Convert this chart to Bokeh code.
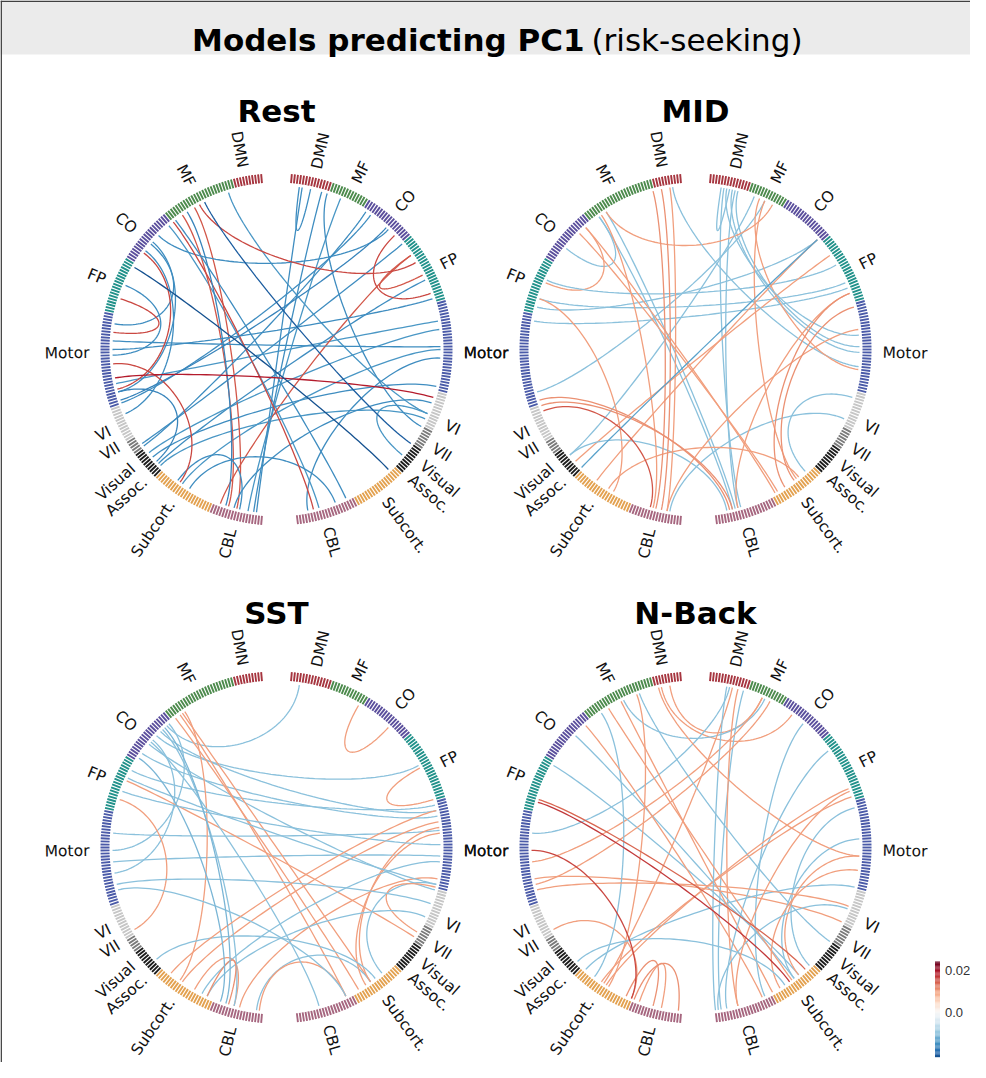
import numpy as np
from bokeh.plotting import figure
from bokeh.models import Range1d
from bokeh.embed import file_html
from bokeh.resources import INLINE
from bokeh.core.properties import value

# ---------------- data ----------------
networks = ["DMN", "MF", "CO", "FP", "Motor", "VI", "VII", "Visual Assoc.", "Subcort.", "CBL"]
net_labels = ["DMN", "MF", "CO", "FP", "Motor", "VI", "VII", "Visual\nAssoc.", "Subcort.", "CBL"]
left_counts = [10, 25, 19, 19, 32, 12, 5, 10, 21, 18]
right_counts = [14, 13, 18, 24, 31, 13, 7, 10, 18, 21]
net_colors = ["#a6353f", "#4c8a4c", "#5a4e9c", "#20918a", "#4a5aa8",
              "#c6c6c6", "#7a7a7a", "#1c1c1c", "#e3a14f", "#a6667f"]

panel_titles = ["Rest", "MID", "SST", "N-Back"]

rest_src = ["L23", "R41", "R50", "R50", "L95", "L67", "L49", "L34", "L25", "L90", "L30",
            "R3", "R4", "R11", "R18", "R13", "R28", "R37", "L41", "L82", "L85", "L97",
            "L120", "L28", "L36", "L44", "L62", "L100", "L104", "L129", "L140", "L143",
            "L126", "R88", "R78", "R104", "R108", "L33", "L48", "L138", "L12", "L76", "R110",
            "L55", "L21"]
rest_dst = ["R53", "R65", "L155", "R58", "R102", "L79", "L99", "R162", "L161", "L139", "L158",
            "R7", "L168", "L167", "L165", "R113", "L121", "L103", "R38", "R84", "R67", "R75",
            "R45", "L157", "R160", "L100", "L87", "L128", "R30", "R60", "R85", "R154",
            "R98", "R164", "L124", "L160", "R125", "R150", "L108", "L162", "R108", "L45", "L130",
            "R132", "R120"]
rest_w = [0.016, 0.016, 0.015, 0.015, 0.019, 0.016, 0.016, 0.016, 0.015, 0.016, 0.015,
          -0.015, -0.015, -0.015, -0.014, -0.015, -0.015, -0.016, -0.015, -0.015, -0.015, -0.014,
          -0.015, -0.016, -0.014, -0.015, -0.015, -0.016, -0.015, -0.015, -0.014, -0.015,
          -0.015, -0.015, -0.014, -0.015, -0.014, -0.015, -0.015, -0.015, -0.014, -0.015, -0.014,
          -0.021, -0.020]

mid_src = ["R4", "R5", "R9", "L28", "L31", "R8", "R10", "R16", "R20", "L28", "L47", "L37",
           "L60", "L67", "L70", "L75", "L67", "L103", "L105", "L107", "L131", "L128", "L125",
           "L10", "L7", "L4", "L30", "L37", "L3", "R65", "R70", "R18", "R43", "R102", "R110",
           "R136", "L165", "R160", "R6", "L40", "R20"]
mid_dst = ["R7", "R159", "R160", "R161", "R162", "R86", "R84", "L125", "L100", "R23", "L31", "L61",
           "R54", "R61", "R43", "R63", "L145", "R163", "R162", "L159", "R43", "R50", "R164",
           "L161", "L163", "L165", "L160", "R146", "R91", "R142", "R138", "R92", "L138", "R133", "L166",
           "L143", "R78", "R65", "R80", "R145", "R137"]
mid_w = [-0.010, -0.010, -0.010, -0.010, -0.010, -0.010, -0.010, -0.010, -0.010, 0.010, -0.010, 0.010,
         -0.010, -0.010, -0.010, -0.010, 0.010, 0.011, 0.011, 0.015, -0.013, 0.010, -0.010,
         0.011, 0.011, 0.010, 0.010, 0.010, -0.010, 0.011, 0.011, 0.010, 0.010, -0.010, -0.010,
         0.010, 0.010, 0.010, -0.010, 0.010, 0.010]

sst_src = ["R3", "R25", "R56", "L42", "L40", "L50", "L57", "L46", "L80", "L90", "L86", "L94",
           "L68", "L30", "L31", "L33", "L61", "L29", "L140", "L158", "L160", "L162", "L168",
           "L169", "R98", "R78", "R80", "R99", "L128", "L38", "L45", "L60", "L52", "L39",
           "L98", "L100", "L65", "R110", "L148", "L135"]
sst_dst = ["L37", "R38", "R68", "R55", "R72", "R74", "R70", "R100", "R79", "R88", "L36", "L44",
           "L115", "R140", "R150", "R145", "R118", "L139", "R76", "L150", "L145", "R96", "R140",
           "R150", "R135", "R140", "R142", "R116", "R138", "L157", "R160", "R98", "L155", "L160",
           "R105", "R150", "R84", "L150", "R90", "R72"]
sst_w = [-0.010, 0.010, 0.010, -0.010, -0.010, -0.010, -0.010, -0.010, -0.010, -0.010, -0.010, -0.010,
         0.010, 0.010, 0.010, 0.010, 0.010, 0.010, 0.010, 0.011, 0.010, 0.010, -0.010,
         0.010, -0.010, 0.010, 0.010, 0.010, -0.010, -0.011, -0.010, -0.010, -0.011, -0.010,
         -0.010, -0.010, -0.010, -0.010, -0.010, 0.010]

nback_src = ["L7", "L4", "L21", "R7", "R8", "R12", "R10", "R19", "L42", "L55", "L68", "L86",
             "L96", "L98", "L115", "L153", "L150", "L155", "L133", "L137", "L22", "L16", "L15",
             "L37", "R36", "R49", "R64", "R67", "R71", "R82", "R88", "R93", "R106", "R107",
             "L129", "R6", "L69", "R160", "L27", "L8"]
nback_dst = ["R31", "R19", "R20", "L80", "L141", "R166", "R160", "L90", "R138", "R136", "R133", "L152",
             "R112", "R22", "L152", "L169", "L160", "L163", "R99", "L30", "R147", "L143", "R120",
             "R151", "R150", "R164", "L142", "L140", "R131", "R138", "R136", "R144", "L100", "R167",
             "R142", "R168", "R140", "R65", "R139", "R88"]
nback_w = [0.010, 0.010, -0.010, -0.010, 0.010, -0.010, 0.010, 0.010, -0.010, -0.010, 0.014, 0.016,
           0.010, 0.010, 0.010, 0.011, 0.011, 0.010, -0.010, -0.010, 0.010, 0.010, -0.010,
           0.010, -0.010, -0.010, 0.010, 0.010, -0.010, -0.010, 0.010, 0.010, 0.010, -0.010,
           -0.010, -0.010, 0.017, 0.010, 0.010, 0.010]

cbar_ticks = [0.0, 0.02]
cbar_tick_labels = ["0.0", "0.02"]
cbar_min, cbar_max = -0.021, 0.024

# ---------------- layout / style ----------------
W, H = 970, 1062
RdBu_r = ["#053061", "#2166ac", "#4393c3", "#92c5de", "#d1e5f0", "#f7f7f7",
          "#fddbc7", "#f4a582", "#d6604d", "#b2182b", "#67001f"]
VMAX = 0.024


def cmap(v):
    t = min(max(0.5 + v / (2 * VMAX), 0.0), 1.0) * (len(RdBu_r) - 1)
    i = min(int(np.floor(t)), len(RdBu_r) - 2)
    f = t - i
    c0 = [int(RdBu_r[i][k:k + 2], 16) for k in (1, 3, 5)]
    c1 = [int(RdBu_r[i + 1][k:k + 2], 16) for k in (1, 3, 5)]
    c = [round(a + (b - a) * f) for a, b in zip(c0, c1)]
    return "#%02x%02x%02x" % tuple(c)


START, STEP = 5.0, 1.0
R_OUT, R_IN, R_CH, K = 176.0, 167.0, 164.0, 0.65
R_LAB = 185.0
LAB_FONT = "DejaVu Sans"
LAB_SIZE = 15.5
centers = [(284, 357), (703, 357), (284, 855), (703, 855)]
title_base = [118, 118, 620, 620]
left_lab_ang = [10.5, 27.5, 50, 68, 91, 116, 121.5, 132, 145.5, 166]
right_lab_ang = [12.5, 25.5, 41, 63, 91, 114, 122, 131, 144, 164]
# "Motor" width in px at LAB_SIZE (DejaVu Sans), so neighbouring panels' labels coincide
motor_w = 2.89 * LAB_SIZE
R_MOTOR = (419 - motor_w) / 2.0

p = figure(width=W, height=H, output_backend="svg", toolbar_location=None,
           x_range=Range1d(8, 8 + W), y_range=Range1d(-(8 + H), -8), min_border=0)
p.axis.visible = False
p.grid.visible = False
p.outline_line_color = None
p.background_fill_color = "white"

# title bar and frame
p.quad(left=[8], right=[8 + W], top=[-8], bottom=[-62], fill_color="#ebebeb", line_color=None)
p.line([8.7, 8.7], [-8, -(8 + H)], line_color="#404040", line_width=1.5)
p.line([8, 8 + W], [-8.7, -8.7], line_color="#404040", line_width=1.5)
p.text([592], [-47], text=["Models predicting PC1"], text_align="right", text_baseline="alphabetic",
       text_font=value("DejaVu Sans"), text_font_style="bold", text_font_size="31px", text_color="black")
p.text([599], [-47], text=["(risk-seeking)"], text_align="left", text_baseline="alphabetic",
       text_font=value("DejaVu Sans"), text_font_size="31px", text_color="black")


def node_angle(node):
    side, i = node[0], int(node[1:])
    a = np.radians(START + i * STEP)
    return np.pi / 2 + a if side == "L" else np.pi / 2 - a


def pol(cx, cy, r, phi):
    return cx + r * np.cos(phi), -cy + r * np.sin(phi)


panels = [(rest_src, rest_dst, rest_w), (mid_src, mid_dst, mid_w),
          (sst_src, sst_dst, sst_w), (nback_src, nback_dst, nback_w)]

t = np.linspace(0, 1, 60)
for (cx, cy), title, tb, (src, dst, w) in zip(centers, panel_titles, title_base, panels):
    # ticks
    x0s, y0s, x1s, y1s, cols = [], [], [], [], []
    for side, counts in (("L", left_counts), ("R", right_counts)):
        idx = 0
        for n, c in enumerate(counts):
            for _ in range(c):
                phi = node_angle(side + str(idx))
                xa, ya = pol(cx, cy, R_IN, phi)
                xb, yb = pol(cx, cy, R_OUT, phi)
                x0s.append(xa); y0s.append(ya); x1s.append(xb); y1s.append(yb)
                cols.append(net_colors[n])
                idx += 1
    p.segment(x0s, y0s, x1s, y1s, line_color=cols, line_width=1.9, line_cap="butt")

    # chords (drawn weakest first)
    order = np.argsort(np.abs(np.array(w)), kind="stable")
    xs, ys, ccols = [], [], []
    for j in order:
        a0, a1 = node_angle(src[j]), node_angle(dst[j])
        P0 = np.array(pol(cx, cy, R_CH, a0))
        P1 = np.array(pol(cx, cy, R_CH * K, a0))
        P2 = np.array(pol(cx, cy, R_CH * K, a1))
        P3 = np.array(pol(cx, cy, R_CH, a1))
        B = ((1 - t) ** 3)[:, None] * P0 + (3 * (1 - t) ** 2 * t)[:, None] * P1 + \
            (3 * (1 - t) * t ** 2)[:, None] * P2 + (t ** 3)[:, None] * P3
        xs.append(list(B[:, 0])); ys.append(list(B[:, 1])); ccols.append(cmap(w[j]))
    p.multi_line(xs, ys, line_color=ccols, line_width=1.3)

    # network labels
    for side, angs in (("L", left_lab_ang), ("R", right_lab_ang)):
        for n, a in enumerate(angs):
            ar = np.radians(a)
            phi = np.pi / 2 + ar if side == "L" else np.pi / 2 - ar
            r = R_MOTOR if networks[n] == "Motor" else R_LAB
            x, y = pol(cx, cy, r, phi)
            ang = phi - np.pi if side == "L" else phi
            p.text([x], [y], text=[net_labels[n]], angle=ang,
                   text_align="right" if side == "L" else "left", text_baseline="middle",
                   text_font=value(LAB_FONT), text_font_size="%gpx" % LAB_SIZE, text_color="#111111",
                   text_line_height=1.0)

    # panel title
    p.text([cx], [-tb], text=[title], text_align="center", text_baseline="alphabetic",
           text_font=value("DejaVu Sans"), text_font_style="bold", text_font_size="31px",
           text_color="black")

# colorbar
CB_X0, CB_X1, CB_ZERO, CB_SCALE = 942.5, 947.5, 1020.0, 42.0 / 0.02
vals = np.linspace(cbar_min, cbar_max, 80)
step = vals[1] - vals[0]
p.quad(left=[CB_X0] * len(vals), right=[CB_X1] * len(vals),
       bottom=[-(CB_ZERO - (v - step / 2) * CB_SCALE) for v in vals],
       top=[-(CB_ZERO - (v + step / 2) * CB_SCALE) for v in vals],
       fill_color=[cmap(v) for v in vals], line_color=None)
p.text([CB_X1 + 5] * len(cbar_ticks), [-(CB_ZERO - v * CB_SCALE) for v in cbar_ticks],
       text=cbar_tick_labels, text_align="left", text_baseline="middle",
       text_font=value("Liberation Sans"), text_font_size="13px", text_color="#333333")

open("out.html", "w").write(file_html(p, INLINE))
